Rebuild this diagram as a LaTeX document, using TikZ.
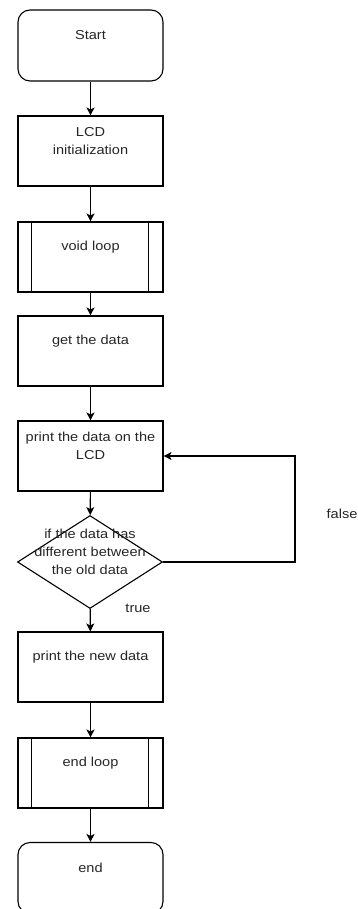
\documentclass[tikz,border=0pt]{standalone}
\usepackage{fontspec}
\setmainfont{Liberation Sans}[FakeStretch=1.12]
\usepackage{tikz}
\usetikzlibrary{shapes,shapes.geometric,arrows,arrows.meta}
\definecolor{txt}{rgb}{0.15,0.15,0.15}
\tikzstyle{every node}=[font=\fontsize{13}{17.7}\selectfont,text=txt]
\tikzstyle{every label}=[align=center,yshift=10pt]
\tikzstyle{term}=[draw,rounded corners=12pt,minimum width=145pt,minimum height=71pt,inner sep=0pt]
\tikzstyle{proc}=[draw,minimum width=145pt,minimum height=70pt,inner sep=0pt]
\tikzstyle{decide}=[draw,diamond,minimum width=145pt,minimum height=93pt,inner sep=0pt]
\tikzstyle{flow}=[-{Stealth[length=8pt,width=8pt,inset=2pt]}]

\begin{document}
\begin{tikzpicture}[x=1pt,y=-1pt,line width=1.1pt]
\useasboundingbox (0,0) rectangle (358,909);
\node[term, label={center:Start}] (start) at (90.5,45.5) {};
\node[proc, label={center:LCD\\initialization}] (init) at (90.5,151) {};
\node[proc, label={center:void loop}] (loop) at (90.5,257) {};
\node[proc, label={center:get the data}] (get) at (90.5,351) {};
\node[proc, label={center:print the data on the\\LCD}] (print) at (90.5,456) {};
\node[decide, label={center:if the data has\\different between\\the old data}] (check) at (90,562) {};
\node[proc, label={center:print the new data}] (new) at (90.5,667) {};
\node[proc, label={center:end loop}] (endloop) at (90.5,773) {};
\node[term, label={center:end}] (end) at (90.5,878) {};
\node (false) at (342,514) {false};
\node (true) at (138,608) {true};
\coordinate (back) at (295,562);
% side bars of the loop boxes
\foreach \n in {loop,endloop} {
  \draw ([xshift=14pt]\n.north west) -- ([xshift=14pt]\n.south west);
  \draw ([xshift=-15pt]\n.north east) -- ([xshift=-15pt]\n.south east);
}
\draw[flow] (start) -- (init);
\draw[flow] (init) -- (loop);
\draw[flow] (loop) -- (get);
\draw[flow] (get) -- (print);
\draw[flow] (print) -- (check);
\draw[flow] (check) -- (new);
\draw[flow] (new) -- (endloop);
\draw[flow] (endloop) -- (end);
\draw[flow] (check.east) -- (back) |- (print.east);
\end{tikzpicture}
\end{document}
